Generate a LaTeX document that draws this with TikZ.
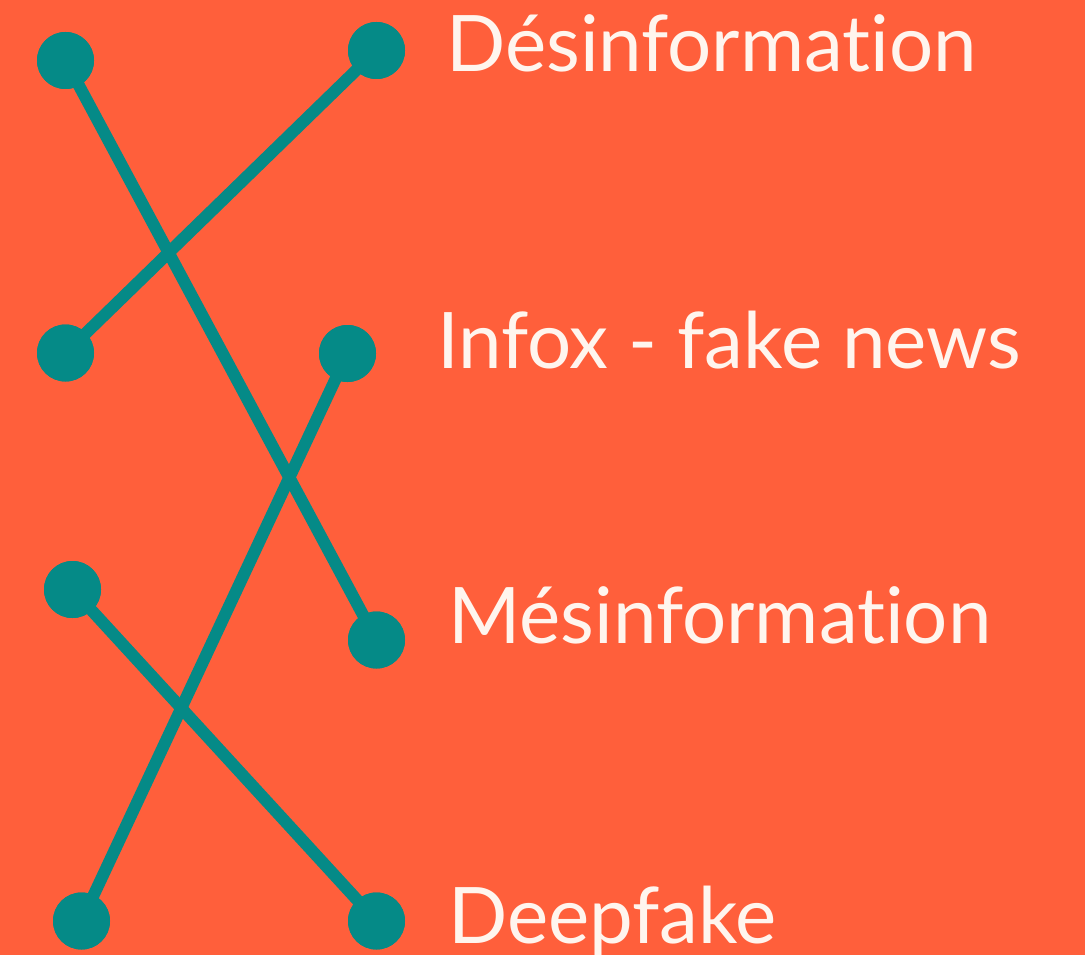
\documentclass[tikz,border=0pt]{standalone}
\usepackage{fontspec}
\setmainfont[Ligatures=NoCommon]{Lato}
\definecolor{bgorange}{HTML}{FF5F3B}
\definecolor{dotteal}{HTML}{058A87}
\definecolor{txtcream}{HTML}{FFF5EE}
\begin{document}
\begin{tikzpicture}[x=1pt,y=-1pt,
  dot/.style={circle,fill=dotteal,minimum size=57pt,inner sep=0pt},
  link/.style={draw=dotteal,line width=12pt},
  lbl/.style={anchor=base west,inner sep=0pt,text=txtcream,font=\fontsize{78}{90}\selectfont}]
\fill[bgorange] (0,0) rectangle (1085,955);
\useasboundingbox (0,0) rectangle (1085,955);
\node[dot] (l1) at (65.5,60.5) {};
\node[dot] (r1) at (376.5,50.5) {};
\node[dot] (l2) at (65.5,353) {};
\node[dot] (r2) at (347.5,353.5) {};
\node[dot] (l3) at (72.5,589.5) {};
\node[dot] (r3) at (376.5,640) {};
\node[dot] (l4) at (81.5,921) {};
\node[dot] (r4) at (376.5,921) {};
\draw[link] (l1.center) -- (r3.center);
\draw[link] (r1.center) -- (l2.center);
\draw[link] (r2.center) -- (l4.center);
\draw[link] (l3.center) -- (r4.center);
\foreach \n in {l1,r1,l2,r2,l3,r3,l4,r4} \node[dot] at (\n) {};
\node[lbl] (t1) at (446,72) {Désinformation};
\node[lbl] (t2) at (437,368) {Infox - fake news};
\node[lbl] (t3) at (448,643) {Mésinformation};
\node[lbl] (t4) at (448,943) {Deepfake};
\end{tikzpicture}
\end{document}
